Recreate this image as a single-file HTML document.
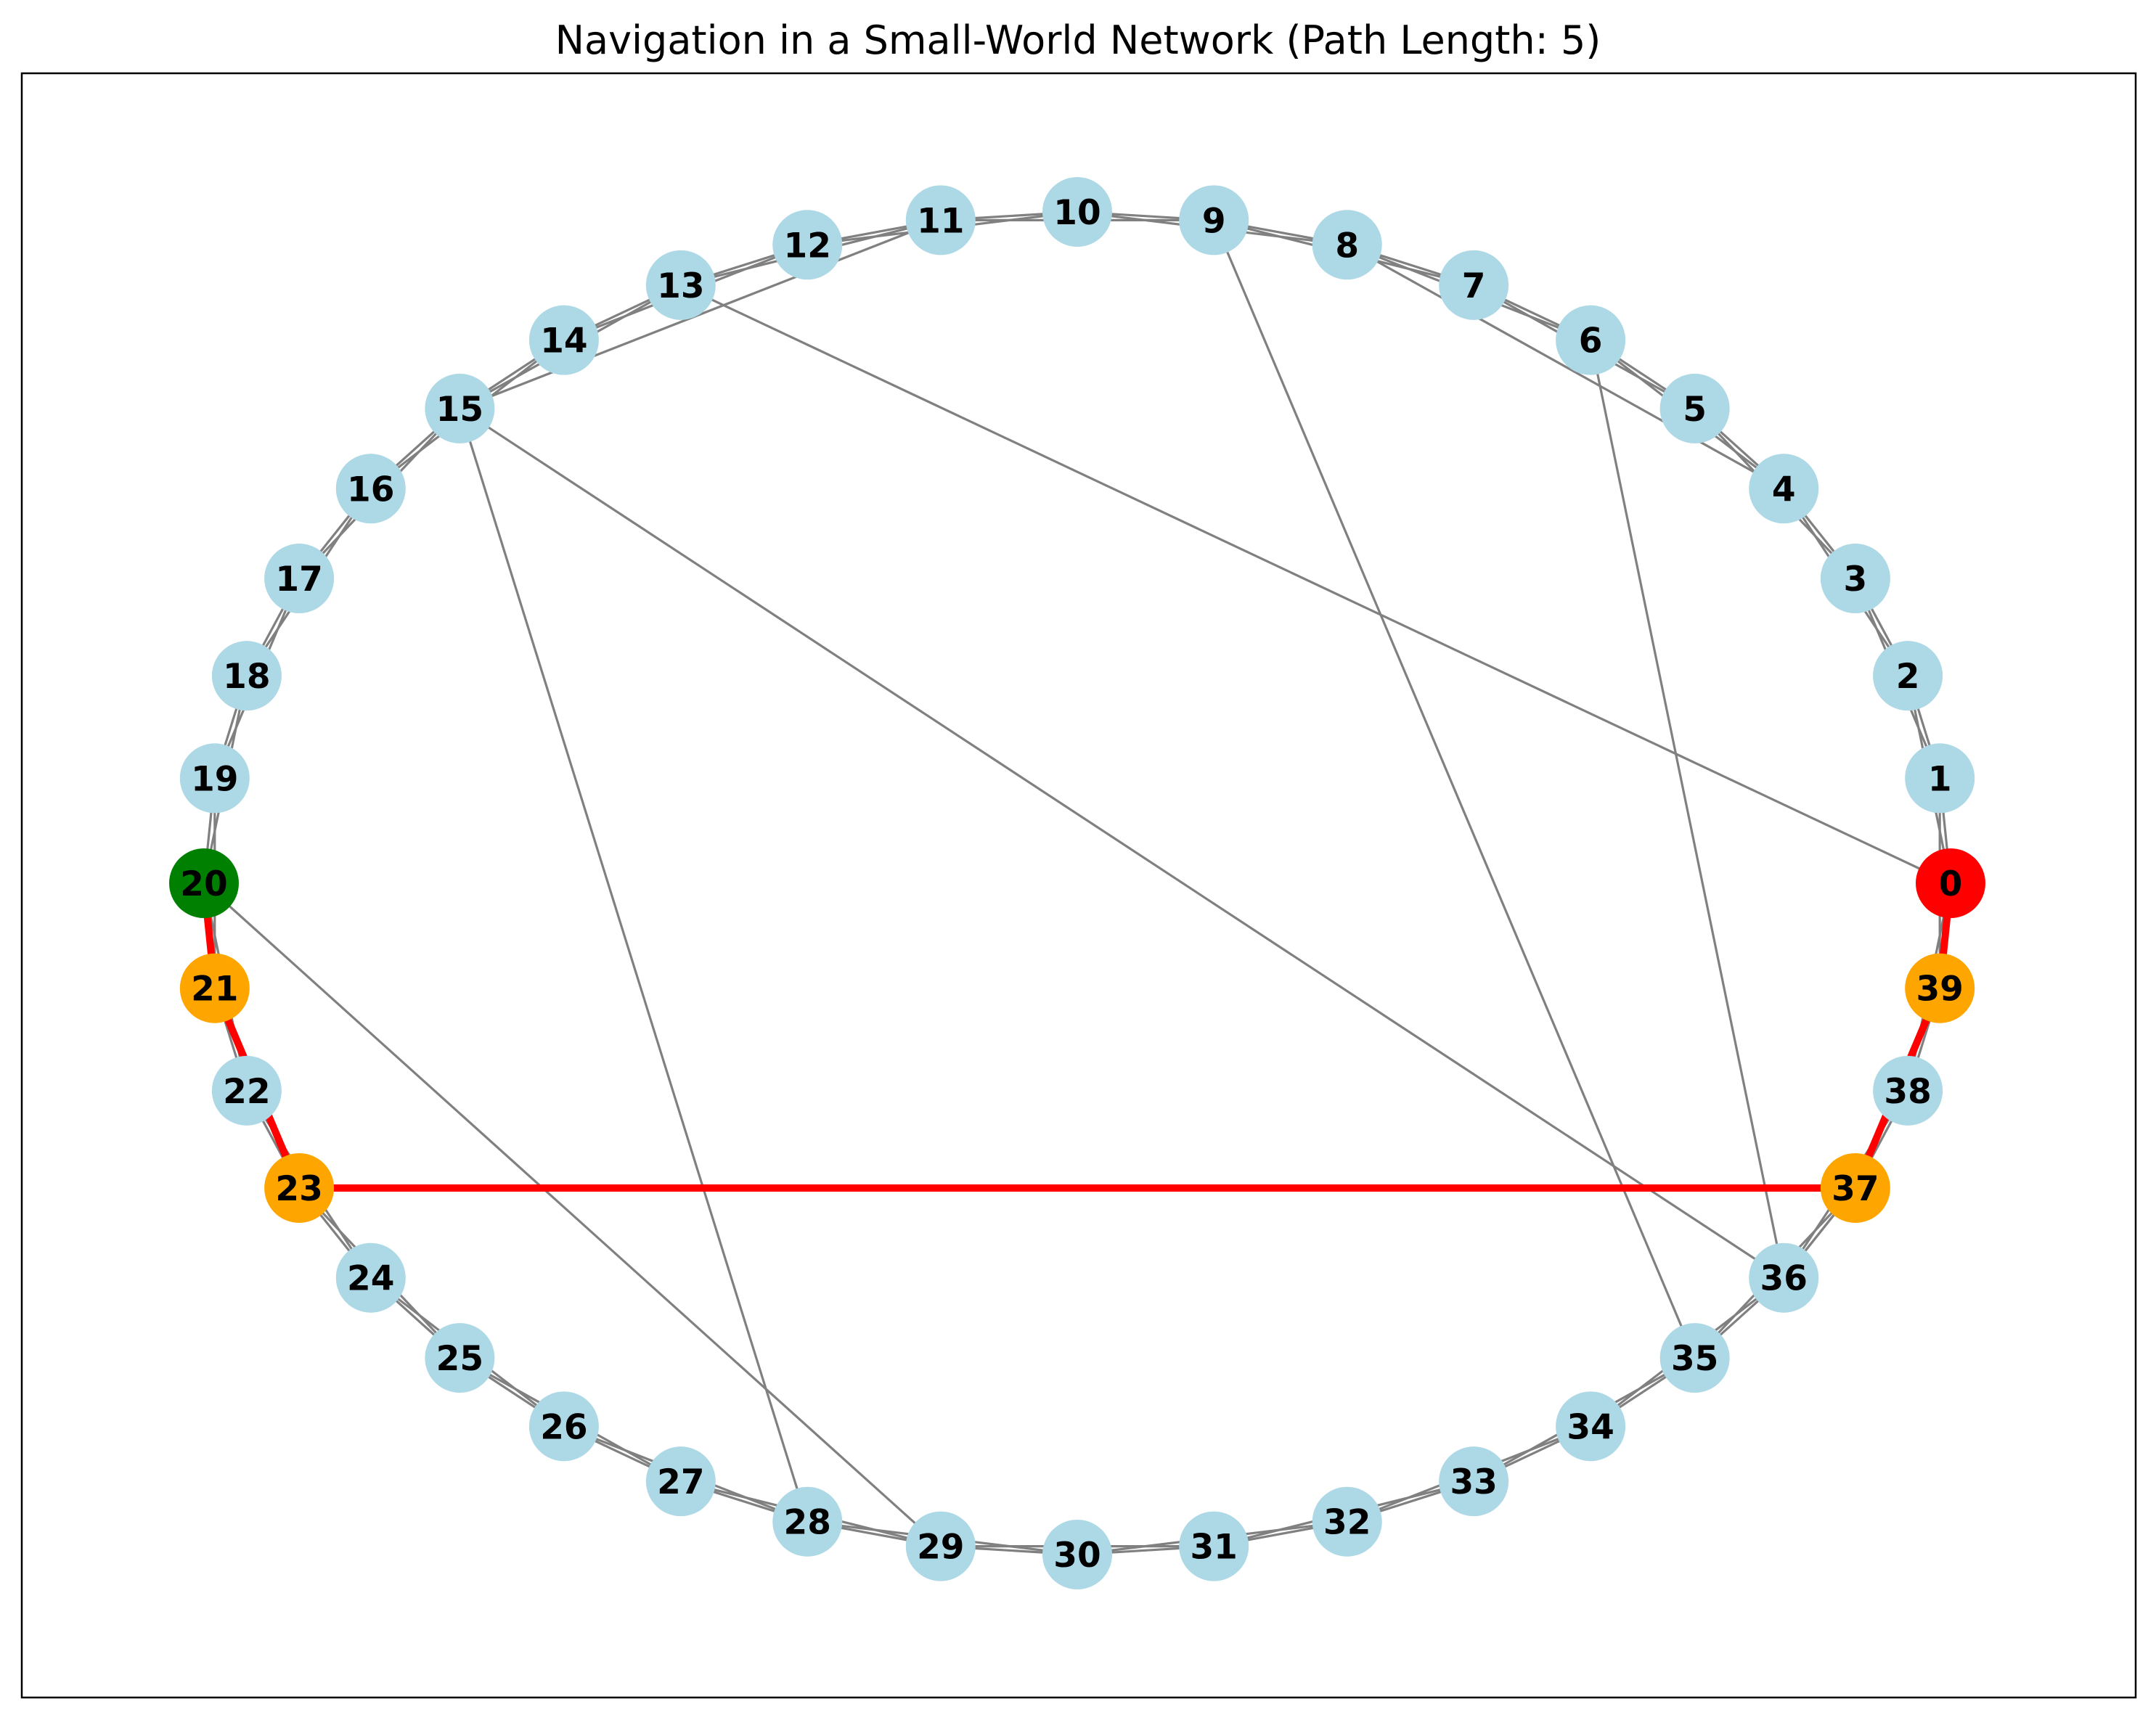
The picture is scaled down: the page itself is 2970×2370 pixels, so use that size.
<!DOCTYPE html>
<html><head><meta charset="utf-8"><style>
html,body{margin:0;padding:0;background:#fff;}
svg{display:block;}
text{font-family:"DejaVu Sans","Liberation Sans",sans-serif;}
</style></head><body>
<svg id="chart" width="2970" height="2370" viewBox="0 0 2970 2370" xmlns="http://www.w3.org/2000/svg">
<rect x="0" y="0" width="2970" height="2370" fill="#fff"/>
<text x="1485" y="74" text-anchor="middle" font-size="54" fill="#000">Navigation in a Small-World Network (Path Length: 5)</text>
<rect x="30" y="101" width="2912" height="2238" fill="none" stroke="#000" stroke-width="2.5"/>
<g id="edges"></g>
<g id="path"></g>
<g id="nodes"></g>
</svg>
<script>
const nodeCount = 40;
const extraEdges = [[0,13],[9,35],[6,36],[15,36],[15,28],[20,29],[15,11],[8,4],[37,36]];
const pathNodes = [0,39,37,23,21,20];
const startNode = 0;
const endNode = 20;

const NS = 'http://www.w3.org/2000/svg';
const cx = 1484, cy = 1217, rx = 1203, ry = 925, nr = 48;
function px(i){ return cx + rx*Math.cos(2*Math.PI*i/nodeCount); }
function py(i){ return cy - ry*Math.sin(2*Math.PI*i/nodeCount); }
function line(g,a,b,color,w,name){
  const l = document.createElementNS(NS,'line');
  l.setAttribute('x1',px(a)); l.setAttribute('y1',py(a));
  l.setAttribute('x2',px(b)); l.setAttribute('y2',py(b));
  l.setAttribute('stroke',color); l.setAttribute('stroke-width',w);
  
  
  g.appendChild(l);
}
const eg = document.getElementById('edges');
for(let i=0;i<nodeCount;i++){
  line(eg,i,(i+1)%nodeCount,'#808080',3.2,'edge-'+i+'-'+((i+1)%nodeCount));
  line(eg,i,(i+2)%nodeCount,'#808080',3.2,'edge-'+i+'-'+((i+2)%nodeCount));
}
extraEdges.forEach(e=>line(eg,e[0],e[1],'#808080',3.2,'edge-'+e[0]+'-'+e[1]));
const pg = document.getElementById('path');
for(let i=0;i<pathNodes.length-1;i++){
  line(pg,pathNodes[i],pathNodes[i+1],'#ff0000',10,'path-edge-'+pathNodes[i]+'-'+pathNodes[i+1]);
}
const ng = document.getElementById('nodes');
for(let i=0;i<nodeCount;i++){
  let fill = '#add8e6';
  if(i===startNode) fill='#ff0000';
  else if(i===endNode) fill='#008000';
  else if(pathNodes.includes(i)) fill='#ffa500';
  const c = document.createElementNS(NS,'circle');
  c.setAttribute('cx',px(i)); c.setAttribute('cy',py(i)); c.setAttribute('r',nr);
  c.setAttribute('fill',fill);
  
  
  ng.appendChild(c);
  const t = document.createElementNS(NS,'text');
  t.setAttribute('x',px(i)); t.setAttribute('y',py(i)+17);
  t.setAttribute('text-anchor','middle'); t.setAttribute('font-size','47');
  t.setAttribute('font-weight','bold'); t.setAttribute('fill','#000');
  t.textContent = String(i);
  
  
  ng.appendChild(t);
}
</script>
</body></html>
